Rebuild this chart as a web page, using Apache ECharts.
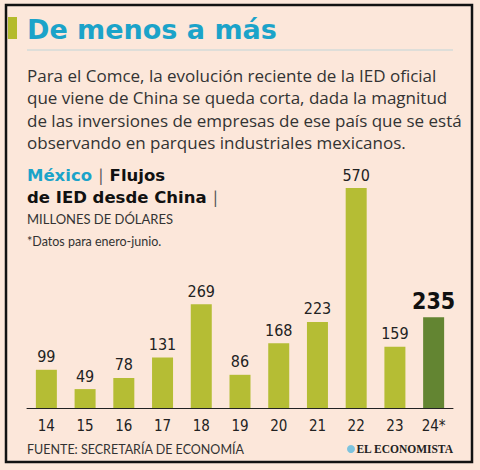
<!DOCTYPE html>
<html><head><meta charset="utf-8">
<script src="https://cdn.jsdelivr.net/npm/echarts@6/dist/echarts.min.js"></script>
<style>html,body{margin:0;padding:0;background:#fce7da;}#c{width:480px;height:470px;}</style>
</head><body><div id="c"></div>
<script>
const categories = ['14','15','16','17','18','19','20','21','22','23','24*'];
const values = [99, 49, 78, 131, 269, 86, 168, 223, 570, 159, 235];
const highlightIndex = 10;
const titleText = 'De menos a más';
const paragraph = [
  'Para el Comce, la evolución reciente de la IED oficial',
  'que viene de China se queda corta, dada la magnitud',
  'de las inversiones de empresas de ese país que se está',
  'observando en parques industriales mexicanos.'
];
const unitText = 'MILLONES DE DÓLARES';
const noteText = '*Datos para enero-junio.';
const sourceText = 'FUENTE: SECRETARÍA DE ECONOMÍA';
const brandText = 'EL ECONOMISTA';

const BAR = '#b5bd34', DARK = '#638532', BLUE = '#1ba3c9';
const narrow = '"Liberation Sans Narrow", "DejaVu Sans Condensed", sans-serif';
const sans = 'Lato, "Noto Sans", sans-serif';
const para = '"Open Sans", Lato, sans-serif';
const heavy = '"DejaVu Sans", "Noto Sans", sans-serif';

const chart = echarts.init(document.getElementById('c'), null, {renderer: 'svg'});

const graphics = [
  {type:'rect', shape:{x:6,y:5,width:466,height:457}, style:{fill:'none', stroke:'#111', lineWidth:2.5}},
  {type:'rect', shape:{x:8,y:17,width:9,height:22}, style:{fill:'#b4bb2c'}},
  {type:'text', x:27, y:29, style:{text:titleText, font:'bold 27px ' + heavy, fill:BLUE, verticalAlign:'middle'}},
  {type:'line', shape:{x1:27,y1:50,x2:453,y2:50}, style:{stroke:'#bfd6d8', lineWidth:1.2}},
  {type:'text', x:27, y:219, style:{text:unitText, font:'13px ' + sans, fill:'#333', verticalAlign:'middle'}},
  {type:'text', x:27, y:241, style:{text:noteText, font:'12.5px ' + sans, fill:'#333', verticalAlign:'middle'}},
  {type:'text', x:27, y:175, style:{
    text:'{a|México}  {b||}  {c|Flujos}', verticalAlign:'middle',
    rich:{a:{font:'bold 16.5px ' + heavy, fill:BLUE},
          b:{font:'17px ' + sans, fill:'#555'},
          c:{font:'bold 16.5px ' + heavy, fill:'#111'}}}},
  {type:'text', x:27, y:197, style:{
    text:'{c|de IED desde China}  {b||}', verticalAlign:'middle',
    rich:{b:{font:'17px ' + sans, fill:'#555'},
          c:{font:'bold 16.5px ' + heavy, fill:'#111'}}}},
  {type:'text', x:27, y:449, style:{text:sourceText, font:'12.5px ' + sans, fill:'#333', verticalAlign:'middle'}},
  {type:'circle', shape:{cx:351, cy:449, r:4}, style:{fill:'#7cc3de'}},
  {type:'text', x:453, y:449, style:{text:brandText, font:'bold 11.5px "Liberation Serif", serif', fill:'#222', align:'right', verticalAlign:'middle'}}
];
paragraph.forEach((t, i) => {
  graphics.push({type:'text', x:27, y:75 + i * 22.5, style:{text:t, font:'17px ' + para, fill:'#333', verticalAlign:'middle'}});
});

chart.setOption({
  backgroundColor: '#fce7da',
  animation: false,
  grid: {left: 27, right: 27, top: 188, bottom: 62},
  xAxis: {
    type: 'category', data: categories,
    axisLine: {lineStyle: {color: '#222', width: 1}},
    axisTick: {show: false},
    axisLabel: {color: '#222', fontSize: 15, fontFamily: narrow, margin: 10}
  },
  yAxis: {type: 'value', min: 0, max: 570, show: false, splitLine: {show: false}},
  series: [{
    type: 'bar', barWidth: 21,
    data: values.map((v, i) => i === highlightIndex ? {
      value: v, itemStyle: {color: DARK},
      label: {fontSize: 23, fontWeight: 'bold', color: '#111'}
    } : v),
    itemStyle: {color: BAR},
    label: {show: true, position: 'top', distance: 5, color: '#222', fontSize: 16, fontFamily: narrow}
  }],
  graphic: graphics
});
</script></body></html>
